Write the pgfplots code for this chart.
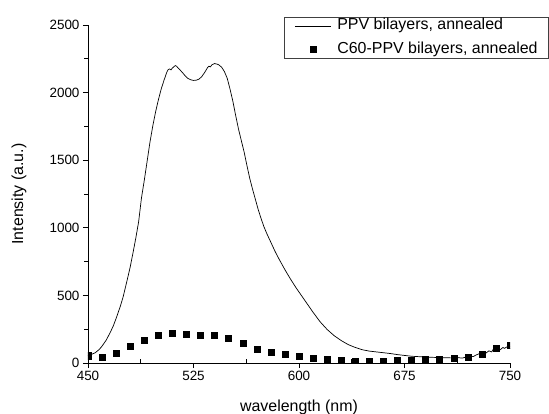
\documentclass[border=0pt]{standalone}
\usepackage{pgfplots}
\pgfplotsset{compat=1.18}
\usepackage{fontspec}
\setmainfont{Liberation Sans}
\begin{document}
\begin{tikzpicture}
\path[use as bounding box] (-88bp,-51bp) rectangle (461bp,363bp);
\begin{axis}[
  at={(0,0)}, anchor=south west,
  width=422bp, height=338bp, scale only axis,
  xmin=450, xmax=750, ymin=0, ymax=2500,
  axis x line*=bottom, axis y line*=left,
  axis line style={line width=0.9bp},
  xtick={450,525,600,675,750},
  ytick={0,500,1000,1500,2000,2500},
  minor x tick num=1, minor y tick num=1,
  tick align=outside,
  major tick length=5bp, minor tick length=3.5bp,
  every tick/.style={black, line width=0.8bp},
  minor x tick style={yshift=3.5bp},
  /pgf/number format/assume math mode=true,
  /pgf/number format/set thousands separator={},
  ticklabel style={font=\fontsize{13.5}{15}\selectfont},
  xlabel={wavelength (nm)},
  ylabel={Intensity (a.u.)},
  label style={font=\fontsize{16}{18}\selectfont},
  xlabel style={at={(axis description cs:0.5,-0.108)}, anchor=north, inner sep=0pt},
  ylabel style={at={(axis description cs:-0.1635,0.5)}, anchor=center, inner sep=0pt},
  clip marker paths=true,
  legend style={at={(axis description cs:1.0924,1.0237)}, anchor=north east,
    draw=black!75, line width=0.8bp, inner xsep=10bp, inner ysep=0bp,
    font=\fontsize{16}{18}\selectfont, row sep=7bp,
    nodes={inner sep=1bp, text height=11.5bp, text depth=3.5bp},
    /tikz/every odd column/.append style={column sep=5bp}},
  legend cell align=left,
  legend image code/.code={\draw[mark repeat=2,mark phase=2,#1] plot coordinates {(0bp,0bp) (18bp,0bp) (36bp,0bp)};},
]
\addplot[black, line width=0.7bp, mark=none] coordinates {
(450,55) (452,62) (455,75) (458,100) (460,125) (463,170) (466,230) (468,275)
(470,330) (473,420) (475,490) (478,620) (480,710) (482,815) (484,925) (486,1045)
(488,1220) (490,1350) (492,1490) (494,1630) (496,1750) (498,1855) (500,1945)
(502,2025) (504,2090) (505,2120) (506,2150) (507,2170) (508,2175) (509,2168)
(510,2182) (511,2190) (512,2200) (513,2195) (514,2182) (515,2172) (517,2150)
(519,2125) (521,2105) (523,2095) (525,2090) (527,2092) (529,2100) (531,2120)
(533,2150) (535,2185) (536,2195) (537,2190) (538,2205) (539,2210) (540,2215)
(541,2212) (542,2210) (543,2205) (545,2188) (547,2155) (549,2105) (551,2025)
(553,1935) (555,1830) (557,1730) (559,1645) (561,1560) (563,1460) (565,1365)
(567,1285) (569,1210) (571,1135) (573,1070) (575,1010) (577,960) (579,915)
(581,870) (583,825) (586,765) (590,690) (594,620) (598,555) (600,525)
(605,450) (610,375) (615,305) (620,248) (625,202) (630,166) (635,136)
(640,115) (645,98) (650,88) (655,82) (660,76) (665,70) (670,62) (675,56)
(680,50) (685,47) (690,44) (695,42) (700,40) (705,39) (710,37) (713,40)
(716,36) (718,42) (720,45) (722,50) (724,48) (726,60) (728,68) (729,62)
(730,72) (732,80) (733,74) (735,90) (737,82) (738,100) (740,95) (742,105)
(743,98) (745,115) (746,108) (748,120) (750,125)
};
\addlegendentry{PPV bilayers, annealed}
\addplot[black, only marks, mark=square*, mark size=3bp] coordinates {
(450,54) (460,45) (470,74) (480,124) (490,166) (500,205) (510,218) (520,213)
(530,205) (540,205) (550,183) (560,144) (570,101) (580,79) (590,62) (600,50)
(610,35) (620,25) (630,22) (640,15) (650,15) (660,15) (670,20) (680,20)
(690,25) (700,30) (710,35) (720,45) (730,67) (740,109) (750,129)
};
\addlegendentry{C60-PPV bilayers, annealed}
\end{axis}
\end{tikzpicture}
\end{document}
